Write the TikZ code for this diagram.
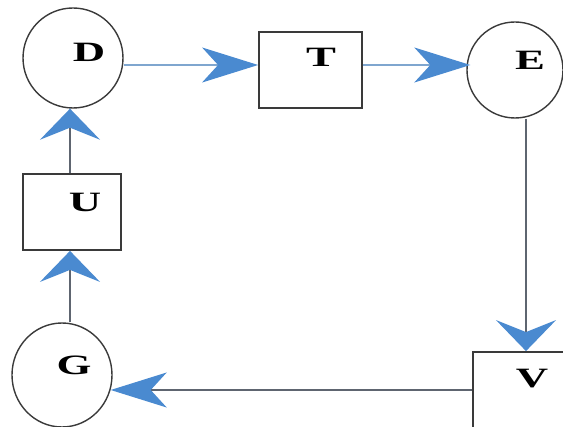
\documentclass[tikz,border=0pt]{standalone}
\usepackage{fontspec}
\usepackage{graphicx}
\setmainfont{Liberation Serif}
\usetikzlibrary{arrows.meta,shapes.geometric}
\definecolor{headblue}{HTML}{4A8AD0}
\definecolor{lineblue}{HTML}{7FA6CF}
\definecolor{linegray}{HTML}{5E6570}
\definecolor{edgegray}{HTML}{3A3A3A}
\tikzset{
  oval/.style={draw=edgegray, line width=1.4pt, ellipse, inner sep=0pt},
  boxnode/.style={draw=edgegray, line width=1.8pt, rectangle, inner sep=0pt},
  lbl/.style={inner sep=0pt, font=\fontsize{28}{30}\selectfont\bfseries},
  harrow/.style={line width=1.3pt, -{Stealth[length=56pt,width=35pt,inset=16pt,color=headblue]}},
  varrow/.style={line width=1.3pt, -{Stealth[length=31pt,width=60pt,inset=12pt,color=headblue]}}
}
\newcommand{\wide}[1]{\scalebox{1.6}[1]{#1}}
\begin{document}
\begin{tikzpicture}[x=1pt,y=-1pt]
\useasboundingbox (0,0) rectangle (563,427);
\clip (0,0) rectangle (563,427);
% shapes
\node[oval, minimum width=100pt, minimum height=100pt] (D) at (73,58) {};
\node[boxnode, minimum width=103pt, minimum height=76pt] (T) at (310.5,70) {};
\node[oval, minimum width=96pt, minimum height=96pt] (E) at (515,70) {};
\node[boxnode, minimum width=98pt, minimum height=76pt] (U) at (72,212) {};
\node[oval, minimum width=100pt, minimum height=104pt] (G) at (62,375) {};
\node[boxnode, minimum width=110pt, minimum height=100pt] (V) at (528,402) {};
% labels
\node[lbl] (Dl) at (89,52) {\wide{D}};
\node[lbl] (Tl) at (321,57) {\wide{T}};
\node[lbl] (El) at (530,60) {\wide{E}};
\node[lbl] (Ul) at (85,202) {\wide{U}};
\node[lbl] (Gl) at (74,365) {\wide{G}};
\node[lbl] (Vl) at (532,379) {\wide{V}};
% guide coordinates
\coordinate (row1) at (0,65);
\coordinate (row2) at (0,390);
\coordinate (colL) at (70,0);
\coordinate (colR) at (526,0);
% connectors
\draw[harrow, draw=lineblue] (D.east |- row1) -- (T.west |- row1);
\draw[harrow, draw=lineblue] (T.east |- row1) -- ([xshift=4pt]E.west |- row1);
\draw[varrow, draw=linegray] (E.south -| colR) -- (V.north -| colR);
\draw[harrow, draw=linegray] (V.west |- row2) -- ([xshift=-2pt]G.east |- row2);
\draw[varrow, draw=linegray] (G.north -| colL) -- (U.south -| colL);
\draw[varrow, draw=linegray] (U.north -| colL) -- (D.south -| colL);
\end{tikzpicture}
\end{document}
